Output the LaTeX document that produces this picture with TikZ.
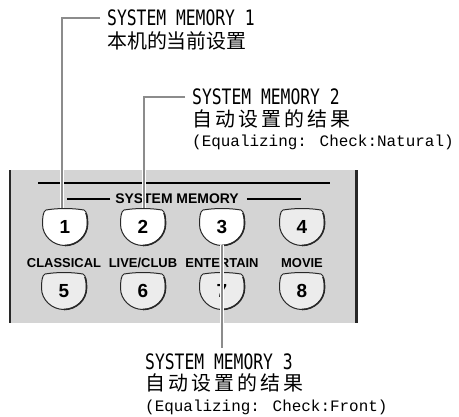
\documentclass[tikz,border=0pt]{standalone}
\usepackage{fontspec}
\setmainfont{Liberation Sans}
\newfontfamily\cjk{Noto Sans CJK SC}
\newfontfamily\monosans{DejaVu Sans Mono}
\newfontfamily\courier{Liberation Mono}
\newcommand\cjslot[1]{\makebox[23bp][l]{#1}}
\newcommand\tallmono[1]{\scalebox{1}[1.3]{#1}}
\definecolor{panelgray}{RGB}{212,212,212}
\definecolor{leadgray}{RGB}{140,140,140}
\definecolor{btngray}{RGB}{236,236,236}
\definecolor{edgedark}{RGB}{40,40,40}
\newcommand\btnshape[3]{%
  \path[btnedge,fill=#3,shift={(#1,#2)}]
    (-19,-17) .. controls (-7,-19) and (7,-19) .. (19,-17)
    .. controls (22,-16) and (22.5,-9) .. (22.5,-3)
    .. controls (22.5,9) and (12,18.5) .. (0,18.5)
    .. controls (-12,18.5) and (-22.5,9) .. (-22.5,-3)
    .. controls (-22.5,-9) and (-22,-16) .. (-19,-17) -- cycle;
  \draw[edgedark,line width=1.6pt,shift={(#1,#2)}]
    (21,-14) .. controls (22.5,-10) and (22.5,-6) .. (22.5,-3)
    .. controls (22.5,9) and (12,18.5) .. (0,18.5);}
\begin{document}
\begin{tikzpicture}[x=1bp,y=-1bp,
  btnedge/.style={draw=edgedark,line width=1pt},
  numlabel/.style={inner sep=0,minimum width=44bp,minimum height=35bp,
    font=\bfseries\fontsize{19}{20}\selectfont},
  rowlabel/.style={inner sep=0,font=\bfseries\fontsize{13}{14}\selectfont},
  titletext/.style={anchor=west,inner sep=0,font=\monosans\fontsize{16.4}{18}\selectfont},
  cntext/.style={anchor=west,inner sep=0,font=\cjk\fontsize{20}{22}\selectfont},
  eqtext/.style={anchor=west,inner sep=0,font=\courier\fontsize{16}{18}\selectfont},
  leader/.style={draw=leadgray,line width=2.2pt},
  halo/.style={draw=white,line width=4.4pt},
  rule/.style={draw=black,line width=1.4pt}]
\useasboundingbox (0,0) rectangle (459,416);

% panel
\fill[panelgray] (9,170) rectangle (358,323);
\draw[draw=edgedark,line width=2.6pt] (10,170) -- (10,323);
\draw[draw=edgedark,line width=2.4pt] (356.5,170) -- (356.5,323);
\draw[rule] (38,183) -- (330,183);

\node[inner sep=0,font=\bfseries\fontsize{14}{15}\selectfont] (sm) at (177,199) {SYSTEM MEMORY};
\draw[rule] (sm.west) ++(-5,0) -- ++(-43,0);
\draw[rule] (sm.east) ++(8,0) -- ++(54,0);

% row labels
\node[rowlabel] (l5) at (64,263) {CLASSICAL};
\node[rowlabel] (l6) at (143,263) {LIVE/CLUB};
\node[rowlabel] (l7) at (222,263) {ENTERTAIN};
\node[rowlabel] (l8) at (302,263) {MOVIE};

% buttons
\btnshape{65}{227}{white}
\btnshape{143}{227}{white}
\btnshape{222}{227}{white}
\btnshape{302}{227}{btngray}
\btnshape{64}{291}{btngray}
\btnshape{143}{291}{btngray}
\btnshape{222}{291}{btngray}
\btnshape{302}{291}{btngray}
\node[numlabel] (b1) at (65,227) {1};
\node[numlabel] (b2) at (143,227) {2};
\node[numlabel] (b3) at (222,227) {3};
\node[numlabel] (b4) at (302,227) {4};
\node[numlabel] (b5) at (64,291) {5};
\node[numlabel] (b6) at (143,291) {6};
\node[numlabel] (b7) at (222,291) {7};
\node[numlabel] (b8) at (302,291) {8};

% texts
\node[titletext] (t1) at (107,18) {\tallmono{SYSTEM MEMORY 1}};
\node[cntext] (c1) at (107,41) {本机的当前设置};
\node[titletext] (t2) at (192,97) {\tallmono{SYSTEM MEMORY 2}};
\node[cntext] (c2) at (192,119) {\cjslot{自}\cjslot{动}\cjslot{设}\cjslot{置}\cjslot{的}\cjslot{结}\cjslot{果}};
\node[eqtext] (e2) at (192,142) {(Equalizing: Check:Natural)};
\node[titletext] (t3) at (145,362) {\tallmono{SYSTEM MEMORY 3}};
\node[cntext] (c3) at (145,383) {\cjslot{自}\cjslot{动}\cjslot{设}\cjslot{置}\cjslot{的}\cjslot{结}\cjslot{果}};
\node[eqtext] (e3) at (145,407) {(Equalizing: Check:Front)};
\coordinate (end3) at (222,348);

% leaders
\draw[halo] (t1.west) ++(-7,0) -| ([xshift=-3bp,yshift=1bp]b1.north);
\draw[leader] (t1.west) ++(-7,0) -| ([xshift=-3bp,yshift=1bp]b1.north);
\draw[halo] (t2.west) ++(-7,0) -| ([xshift=1bp,yshift=1bp]b2.north);
\draw[leader] (t2.west) ++(-7,0) -| ([xshift=1bp,yshift=1bp]b2.north);
\draw[halo] (b3.south) -- (end3);
\draw[leader] (b3.south) -- (end3);
\end{tikzpicture}
\end{document}
